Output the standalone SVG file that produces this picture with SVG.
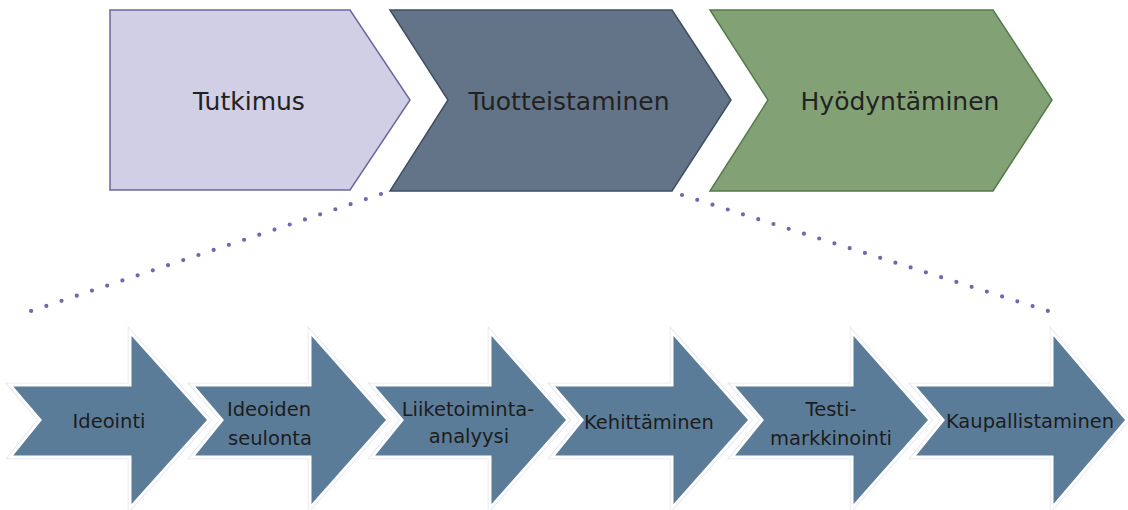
<svg xmlns="http://www.w3.org/2000/svg" width="1128" height="510" viewBox="0 0 1128 510">
<style>
.top{font-family:"DejaVu Sans","Liberation Sans",sans-serif;font-size:25px;fill:#222;text-anchor:middle}
.bt{font-family:"DejaVu Sans","Liberation Sans",sans-serif;font-size:19.5px;fill:#1c1c1c;text-anchor:middle}
.arr{fill:#5b7c99;stroke:#fff;stroke-width:3;stroke-linejoin:miter}
.glow{fill:none;stroke:#e4e1f0;stroke-width:4.5}
.dots{fill:none;stroke:#7068ad;stroke-width:4.2;stroke-linecap:round}
</style>
<rect width="1128" height="510" fill="#fff"/>
<g id="connectors">
<line class="dots" x1="381" y1="194" x2="31" y2="311" stroke-dasharray="0 16.04"/>
<line class="dots" x1="682" y1="195" x2="1048" y2="311" stroke-dasharray="0 15.99"/>
</g>
<g id="tutkimus">
<polygon points="110,10 350,10 410,100 350,190 110,190" fill="#d0cfe5" stroke="#6e66a0" stroke-width="1.5"/>
<text class="top" x="249" y="110">Tutkimus</text>
</g>
<g id="tuotteistaminen">
<polygon points="390,10 672,10 731,100 672,191 390,191 448,100" fill="#637488" stroke="#3e4f63" stroke-width="1.5"/>
<text class="top" x="569" y="110">Tuotteistaminen</text>
</g>
<g id="hyodyntaminen">
<polygon points="710,10 993,10 1052,100 993,191 710,191 768,100" fill="#82a276" stroke="#557a4b" stroke-width="1.5"/>
<text class="top" x="900" y="110">Hyödyntäminen</text>
</g>
<g id="kaupallistaminen">
<polygon class="glow" points="913,385 1052,385 1052,332 1127,420 1052,508 1052,457 913,457 943,420"/>
<polygon class="arr" points="913,385 1052,385 1052,332 1127,420 1052,508 1052,457 913,457 943,420"/>
<text class="bt" x="1030" y="428">Kaupallistaminen</text>
</g>
<g id="testimarkkinointi">
<polygon class="glow" points="732,385 852,385 852,332 930,420 852,508 852,457 732,457 762,420"/>
<polygon class="arr" points="732,385 852,385 852,332 930,420 852,508 852,457 732,457 762,420"/>
<text class="bt" x="831" y="416">Testi-</text>
<text class="bt" x="831" y="445">markkinointi</text>
</g>
<g id="kehittaminen">
<polygon class="glow" points="552,385 672,385 672,332 750,420 672,508 672,457 552,457 582,420"/>
<polygon class="arr" points="552,385 672,385 672,332 750,420 672,508 672,457 552,457 582,420"/>
<text class="bt" x="649" y="429">Kehittäminen</text>
</g>
<g id="liiketoiminta-analyysi">
<polygon class="glow" points="372,385 490,385 490,332 568,420 490,508 490,457 372,457 402,420"/>
<polygon class="arr" points="372,385 490,385 490,332 568,420 490,508 490,457 372,457 402,420"/>
<text class="bt" x="468" y="416">Liiketoiminta-</text>
<text class="bt" x="469" y="443">analyysi</text>
</g>
<g id="ideoiden-seulonta">
<polygon class="glow" points="192,385 310,385 310,332 388,420 310,508 310,457 192,457 222,420"/>
<polygon class="arr" points="192,385 310,385 310,332 388,420 310,508 310,457 192,457 222,420"/>
<text class="bt" x="269" y="416">Ideoiden</text>
<text class="bt" x="270" y="445">seulonta</text>
</g>
<g id="ideointi">
<polygon class="glow" points="10,385 130,385 130,332 209,420 130,508 130,457 10,457 40,420"/>
<polygon class="arr" points="10,385 130,385 130,332 209,420 130,508 130,457 10,457 40,420"/>
<text class="bt" x="109" y="428">Ideointi</text>
</g>
</svg>
